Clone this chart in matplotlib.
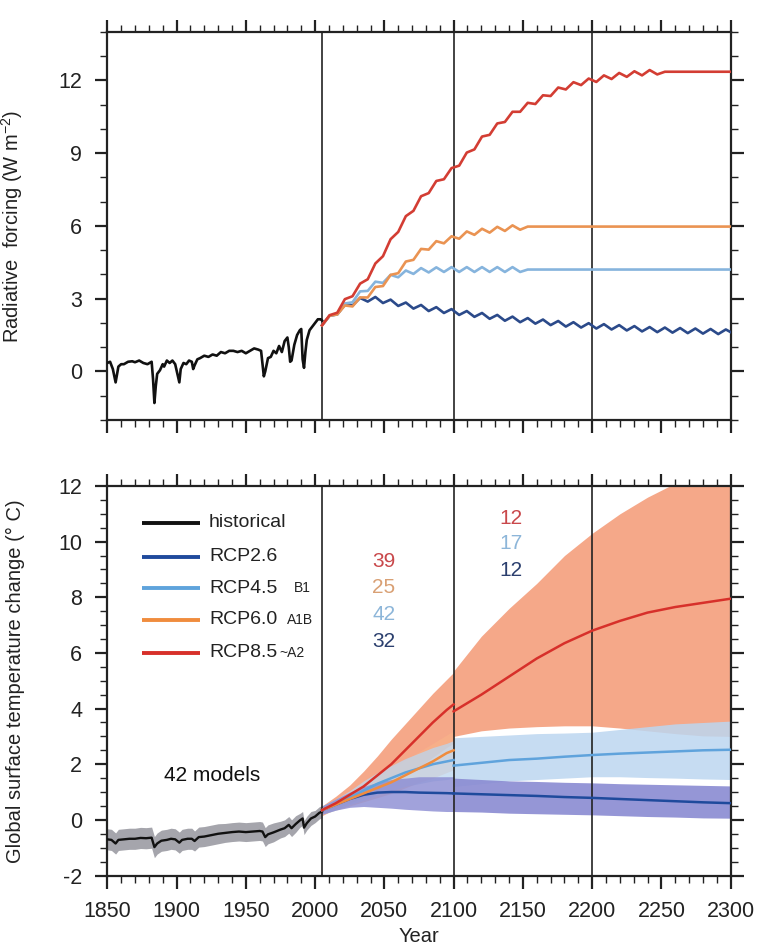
import matplotlib
matplotlib.use("Agg")
import matplotlib.pyplot as plt
from matplotlib.ticker import MultipleLocator

plt.rcParams['font.family'] = ['Liberation Sans', 'DejaVu Sans']
plt.rcParams['mathtext.default'] = 'regular'
plt.rcParams['axes.unicode_minus'] = False

# ---------------- Radiative forcing ----------------
hist_years = [1850, 1852, 1854, 1856, 1858, 1860, 1862, 1865, 1868, 1870, 1873, 1876,
              1879, 1882, 1883, 1884, 1885, 1886, 1888, 1890, 1891, 1893, 1895, 1897,
              1899, 1902, 1903, 1905, 1907, 1909, 1911, 1912, 1913, 1915, 1917, 1920,
              1923, 1926, 1929, 1932, 1935, 1938, 1941, 1944, 1947, 1950, 1953, 1956,
              1959, 1961, 1963, 1964, 1966, 1968, 1970, 1972, 1974, 1976, 1978, 1980,
              1981, 1982, 1983, 1985, 1987, 1989, 1990, 1991, 1992, 1993, 1994, 1996,
              1998, 2000, 2002, 2004, 2005]
hist_forcing = [0.35, 0.40, 0.10, -0.45, 0.20, 0.30, 0.30, 0.40, 0.42, 0.38, 0.45, 0.35,
                0.30, 0.40, -0.30, -1.30, -0.60, -0.10, 0.05, 0.30, 0.20, 0.45, 0.35, 0.45,
                0.30, -0.45, 0.10, 0.35, 0.30, 0.45, 0.40, 0.10, 0.25, 0.50, 0.55, 0.65,
                0.60, 0.70, 0.65, 0.80, 0.75, 0.85, 0.85, 0.80, 0.85, 0.75, 0.85, 0.95,
                0.90, 0.85, -0.20, 0.00, 0.55, 0.60, 0.85, 0.75, 1.05, 0.80, 1.25, 1.40,
                1.00, 0.40, 0.45, 1.10, 1.50, 1.70, 1.75, 0.50, 0.15, 0.80, 1.30, 1.70,
                1.85, 2.00, 2.15, 2.15, 2.10]

proj_years = [2005, 2010.5, 2016, 2021.5, 2027, 2032.5, 2038, 2043.5, 2049, 2054.5,
              2060, 2065.5, 2071, 2076.5, 2082, 2087.5, 2093, 2098.5, 2104, 2109.5,
              2115, 2120.5, 2126, 2131.5, 2137, 2142.5, 2148, 2153.5, 2159, 2164.5,
              2170, 2175.5, 2181, 2186.5, 2192, 2197.5, 2203, 2208.5, 2214, 2219.5,
              2225, 2230.5, 2236, 2241.5, 2247, 2252.5, 2258, 2263.5, 2269, 2274.5,
              2280, 2285.5, 2291, 2296.5, 2300]

rcp26_forcing = [1.90, 2.30, 2.35, 2.75, 2.72, 3.03, 2.88, 3.07, 2.82, 2.96,
                 2.70, 2.84, 2.59, 2.74, 2.49, 2.65, 2.41, 2.57, 2.33, 2.49,
                 2.25, 2.41, 2.17, 2.33, 2.09, 2.26, 2.03, 2.20, 1.97, 2.14,
                 1.91, 2.08, 1.85, 2.03, 1.81, 1.99, 1.77, 1.95, 1.73, 1.91,
                 1.69, 1.87, 1.65, 1.83, 1.62, 1.81, 1.60, 1.79, 1.58, 1.77,
                 1.56, 1.75, 1.54, 1.73, 1.62]
rcp45_forcing = [1.90, 2.30, 2.35, 2.80, 2.85, 3.30, 3.32, 3.70, 3.65, 3.98,
                 3.88, 4.16, 4.02, 4.26, 4.08, 4.29, 4.10, 4.30, 4.10, 4.30,
                 4.10, 4.30, 4.10, 4.30, 4.10, 4.30, 4.10, 4.20]
rcp60_forcing = [1.90, 2.30, 2.35, 2.72, 2.68, 3.05, 3.05, 3.48, 3.52, 3.98,
                 4.05, 4.53, 4.60, 5.05, 5.02, 5.37, 5.28, 5.57, 5.47, 5.77,
                 5.63, 5.88, 5.72, 5.96, 5.79, 6.02, 5.84, 5.97]
rcp85_forcing = [1.90, 2.32, 2.42, 2.98, 3.10, 3.62, 3.80, 4.45, 4.75, 5.45,
                 5.75, 6.40, 6.62, 7.22, 7.35, 7.85, 7.92, 8.38, 8.48, 9.02,
                 9.15, 9.68, 9.75, 10.22, 10.28, 10.70, 10.70, 11.07, 11.02, 11.38,
                 11.35, 11.70, 11.62, 11.92, 11.80, 12.07, 11.93, 12.20, 12.05, 12.30,
                 12.14, 12.37, 12.20, 12.42, 12.24, 12.35]

# ---------------- Temperature change ----------------
hist_temp_years = [1850, 1853, 1856, 1858, 1862, 1866, 1870, 1874, 1878, 1882,
                   1884, 1886, 1889, 1893, 1896, 1899, 1902, 1904, 1908, 1911,
                   1913, 1916, 1920, 1925, 1930, 1935, 1940, 1945, 1950, 1955,
                   1960, 1962, 1964, 1966, 1970, 1975, 1978, 1981, 1983, 1986,
                   1989, 1991, 1992, 1994, 1997, 2000, 2003, 2005]
hist_temp = [-0.70, -0.72, -0.85, -0.72, -0.70, -0.68, -0.68, -0.65, -0.66, -0.64,
             -0.98, -0.85, -0.75, -0.72, -0.68, -0.70, -0.82, -0.72, -0.68, -0.68,
             -0.76, -0.62, -0.60, -0.55, -0.50, -0.47, -0.44, -0.42, -0.44, -0.42,
             -0.40, -0.42, -0.62, -0.52, -0.45, -0.35, -0.30, -0.18, -0.30, -0.15,
             -0.02, 0.05, -0.28, -0.12, 0.05, 0.12, 0.25, 0.30]
hist_temp_spread = [0.38, 0.38, 0.38, 0.38, 0.38, 0.38, 0.38, 0.38, 0.38, 0.38,
                    0.38, 0.38, 0.38, 0.38, 0.38, 0.38, 0.38, 0.38, 0.38, 0.38,
                    0.36, 0.36, 0.36, 0.36, 0.36, 0.34, 0.34, 0.34, 0.34, 0.34,
                    0.34, 0.34, 0.34, 0.34, 0.34, 0.30, 0.30, 0.30, 0.30, 0.30,
                    0.25, 0.25, 0.25, 0.25, 0.25, 0.22, 0.22, 0.22]

years_to_2100 = [2005, 2015, 2025, 2035, 2045, 2055, 2065, 2075, 2085, 2095, 2100]
years_to_2300 = [2100, 2120, 2140, 2160, 2180, 2200, 2220, 2240, 2260, 2280, 2300]

rcp26_mean_a = [0.35, 0.55, 0.75, 0.90, 0.98, 1.00, 1.00, 0.98, 0.97, 0.96, 0.95]
rcp26_high_a = [0.50, 0.75, 1.00, 1.20, 1.35, 1.45, 1.50, 1.55, 1.55, 1.55, 1.55]
rcp26_low_a = [0.20, 0.35, 0.45, 0.48, 0.45, 0.42, 0.38, 0.35, 0.32, 0.30, 0.30]
rcp26_mean_b = [0.95, 0.92, 0.89, 0.86, 0.82, 0.79, 0.75, 0.71, 0.67, 0.63, 0.60]
rcp26_high_b = [1.50, 1.45, 1.40, 1.38, 1.35, 1.33, 1.30, 1.28, 1.26, 1.24, 1.22]
rcp26_low_b = [0.30, 0.28, 0.24, 0.22, 0.20, 0.18, 0.15, 0.12, 0.10, 0.07, 0.06]

rcp45_mean_a = [0.35, 0.55, 0.80, 1.05, 1.30, 1.50, 1.70, 1.85, 2.00, 2.10, 2.15]
rcp45_high_a = [0.50, 0.75, 1.05, 1.40, 1.70, 1.95, 2.20, 2.40, 2.60, 2.75, 2.85]
rcp45_low_a = [0.20, 0.35, 0.55, 0.70, 0.90, 1.05, 1.20, 1.30, 1.40, 1.45, 1.50]
rcp45_mean_b = [1.95, 2.05, 2.15, 2.20, 2.27, 2.33, 2.38, 2.42, 2.46, 2.50, 2.52]
rcp45_high_b = [2.95, 3.00, 3.05, 3.10, 3.12, 3.15, 3.25, 3.35, 3.45, 3.50, 3.55]
rcp45_low_b = [1.20, 1.30, 1.40, 1.45, 1.50, 1.55, 1.55, 1.52, 1.50, 1.47, 1.45]

rcp60_mean_a = [0.35, 0.55, 0.75, 0.95, 1.15, 1.35, 1.60, 1.85, 2.10, 2.40, 2.50]
rcp60_high_a = [0.50, 0.75, 1.00, 1.25, 1.55, 1.85, 2.15, 2.45, 2.75, 3.05, 3.20]
rcp60_low_a = [0.20, 0.35, 0.50, 0.65, 0.80, 0.95, 1.15, 1.35, 1.50, 1.70, 1.80]

rcp85_mean_a = [0.35, 0.60, 0.90, 1.20, 1.60, 2.00, 2.50, 3.00, 3.50, 3.95, 4.15]
rcp85_high_a = [0.50, 0.85, 1.25, 1.75, 2.30, 2.90, 3.45, 4.00, 4.55, 5.05, 5.30]
rcp85_low_a = [0.15, 0.40, 0.60, 0.80, 1.05, 1.40, 1.65, 1.90, 2.25, 2.60, 2.75]
rcp85_mean_b = [3.90, 4.50, 5.15, 5.80, 6.35, 6.80, 7.15, 7.45, 7.65, 7.80, 7.95]
rcp85_high_b = [5.35, 6.60, 7.60, 8.50, 9.50, 10.30, 11.00, 11.60, 12.10, 12.50, 12.80]
rcp85_low_b = [3.00, 3.20, 3.30, 3.35, 3.38, 3.38, 3.30, 3.20, 3.10, 3.02, 3.00]

models_to_2100 = ['39', '25', '42', '32']      # RCP8.5, 6.0, 4.5, 2.6
models_to_2300 = ['12', '17', '12']            # RCP8.5, 4.5, 2.6

# colours
c26_line, c45_line, c60_line, c85_line = '#1F4A9C', '#5FA3DC', '#F08C3E', '#D7302A'
c26_top, c45_top, c60_top, c85_top = '#2B4A8A', '#86B4DD', '#EA9352', '#D33D33'
c26_band, c45_band, c60_band, c85_band = '#8A8BD2', '#BCD6F0', '#F9B48A', '#F5A383'
ink = '#222222'

fig = plt.figure(figsize=(7.58, 9.5), dpi=100)
ax1 = fig.add_axes([0.14156, 0.55789, 0.8224, 0.40874])
ax2 = fig.add_axes([0.14156, 0.07842, 0.8224, 0.41])


def style_axes(ax, ymajor, yminor):
    ax.set_xlim(1850, 2300)
    ax.xaxis.set_major_locator(MultipleLocator(50))
    ax.xaxis.set_minor_locator(MultipleLocator(10))
    ax.yaxis.set_major_locator(MultipleLocator(ymajor))
    ax.yaxis.set_minor_locator(MultipleLocator(yminor))
    ax.tick_params(which='both', direction='out', top=True, right=True,
                   bottom=True, left=True, colors=ink)
    ax.tick_params(which='major', length=9, width=1.6, labelsize=15.5, pad=9)
    ax.tick_params(which='minor', length=5, width=1.0)
    for sp in ax.spines.values():
        sp.set_linewidth(1.6)
        sp.set_color(ink)
    for yr in (2005, 2100, 2200):
        ax.axvline(yr, color=ink, lw=1.2, zorder=4)


def extend(years, vals):
    xs = list(years[:len(vals)])
    ys = list(vals)
    if xs[-1] < 2300:
        xs.append(2300)
        ys.append(vals[-1])
    return xs, ys


# ---- top panel: forcing ----
style_axes(ax1, 3, 1)
ax1.set_ylim(-2, 14)
ax1.tick_params(labelbottom=False)
ax1.plot(hist_years, hist_forcing, color='#111111', lw=1.9, zorder=5)
for vals, col in ((rcp26_forcing, c26_top), (rcp45_forcing, c45_top),
                  (rcp60_forcing, c60_top), (rcp85_forcing, c85_top)):
    xs, ys = extend(proj_years, vals)
    ax1.plot(xs, ys, color=col, lw=1.9, zorder=5)
ax1.set_ylabel(r'Radiative  forcing (W m$^{-2}$)', fontsize=14.5, color=ink)
ax1.yaxis.set_label_coords(-0.132, 0.5)

# ---- bottom panel: temperature ----
style_axes(ax2, 2, 0.5)
ax2.set_ylim(-2, 12)

hist_lo = [m - s for m, s in zip(hist_temp, hist_temp_spread)]
hist_hi = [m + s for m, s in zip(hist_temp, hist_temp_spread)]
ax2.fill_between(hist_temp_years, hist_lo, hist_hi, color='#A5A5AC', lw=0, zorder=1)

bands = [
    (years_to_2100, rcp85_low_a, rcp85_high_a, c85_band, 0.95),
    (years_to_2300, rcp85_low_b, rcp85_high_b, c85_band, 0.95),
    (years_to_2100, rcp60_low_a, rcp60_high_a, c60_band, 0.6),
    (years_to_2100, rcp45_low_a, rcp45_high_a, c45_band, 0.75),
    (years_to_2300, rcp45_low_b, rcp45_high_b, c45_band, 0.85),
    (years_to_2100, rcp26_low_a, rcp26_high_a, c26_band, 0.8),
    (years_to_2300, rcp26_low_b, rcp26_high_b, c26_band, 0.9),
]
for yrs, lo, hi, col, a in bands:
    ax2.fill_between(yrs, lo, hi, color=col, alpha=a, lw=0, zorder=2)

ax2.plot(hist_temp_years, hist_temp, color='#111111', lw=1.7, zorder=5)
for yrs, vals, col in ((years_to_2100, rcp26_mean_a, c26_line),
                       (years_to_2300, rcp26_mean_b, c26_line),
                       (years_to_2100, rcp45_mean_a, c45_line),
                       (years_to_2300, rcp45_mean_b, c45_line),
                       (years_to_2100, rcp60_mean_a, c60_line),
                       (years_to_2100, rcp85_mean_a, c85_line),
                       (years_to_2300, rcp85_mean_b, c85_line)):
    ax2.plot(yrs, vals, color=col, lw=1.8, zorder=5)

ax2.set_ylabel('Global surface temperature change (° C)', fontsize=14.5, color=ink)
ax2.yaxis.set_label_coords(-0.132, 0.5)
ax2.set_xlabel('Year', fontsize=14.5, color=ink, labelpad=4)

# legend drawn by hand
legend_rows = [('historical', '#111111', ''), ('RCP2.6', c26_line, ''),
               ('RCP4.5', c45_line, 'B1'), ('RCP6.0', c60_line, 'A1B'),
               ('RCP8.5', c85_line, '~A2')]
legend_y = [0.906, 0.8185, 0.7374, 0.656, 0.572]
note_x = {'B1': 0.300, 'A1B': 0.2885, '~A2': 0.2765}
for (lab, col, note), y in zip(legend_rows, legend_y):
    ax2.plot([0.0552, 0.1487], [y, y], transform=ax2.transAxes, color=col, lw=2.8,
             solid_capstyle='butt', zorder=6)
    ax2.text(0.163, y, lab, transform=ax2.transAxes, fontsize=14, va='center',
             ha='left', color=ink)
    if note:
        ax2.text(note_x[note], y, note, transform=ax2.transAxes, fontsize=10,
                 va='center', ha='left', color=ink)

ax2.text(1926, 1.6, '42 models', fontsize=15, ha='center', va='center', color='#111111')

for lab, col, y in zip(models_to_2100, ['#C9484B', '#D9A074', '#8DB6D9', '#2B3F6E'],
                       [9.28, 8.36, 7.37, 6.41]):
    ax2.text(2049.7, y, lab, fontsize=15, ha='center', va='center', color=col)
for lab, col, y in zip(models_to_2300, ['#C9484B', '#8DB6D9', '#2B3F6E'],
                       [10.84, 9.94, 8.98]):
    ax2.text(2141.3, y, lab, fontsize=15, ha='center', va='center', color=col)

fig.savefig('out.png', dpi=100)
